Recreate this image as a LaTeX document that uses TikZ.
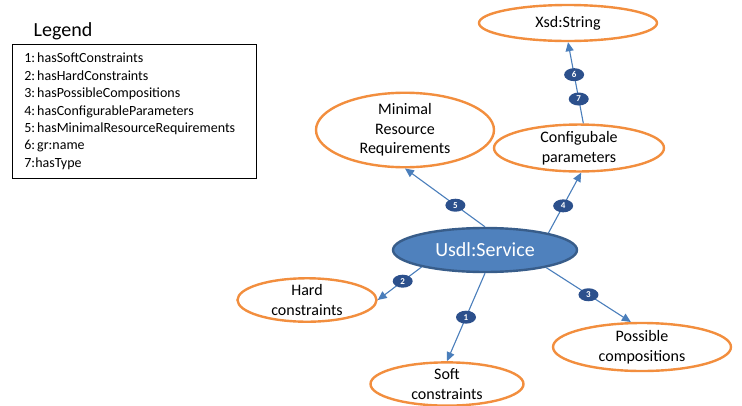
\documentclass[tikz,border=0pt]{standalone}
\usepackage{fontspec}
\setmainfont{Carlito}
\usepackage{tikz}
\usetikzlibrary{arrows.meta,shapes,positioning}
\frenchspacing
\definecolor{ora}{RGB}{242,142,62}
\definecolor{svcfill}{RGB}{79,129,189}
\definecolor{svcdraw}{RGB}{56,93,138}
\definecolor{relblue}{RGB}{74,126,187}
\definecolor{numblue}{RGB}{44,80,140}
\newcommand{\legfont}{\fontsize{14}{17.4}\selectfont}
\newcommand{\legsp}{\kern2pt}
\tikzstyle{prop}=[ellipse, draw=ora, line width=2.4pt, inner sep=0pt, align=center, font=\fontsize{16}{19.5}\selectfont]
\tikzstyle{num}=[ellipse, fill=numblue, text=white, inner sep=0pt, minimum width=20pt, minimum height=13pt, font=\fontsize{9}{9}\selectfont\bfseries]
\tikzstyle{rel}=[draw=relblue, line width=1.1pt, -{Triangle[length=9pt,width=8pt]}]

\begin{document}
\begin{tikzpicture}[x=1pt,y=-1pt]
		\useasboundingbox (0,0) rectangle (742,405);
		\node (T)at(63,31){\fontsize{20}{24}\selectfont Legend};
		\node[draw, line width=0.8pt, anchor=north west, text width=220pt, inner xsep=12pt, inner ysep=6pt, minimum height=134pt, align=left, font=\legfont] (L)at(12,44){1:\legsp hasSoftConstraints\\2:\legsp hasHardConstraints\\3:\legsp hasPossibleCompositions\\4:\legsp hasConfigurableParameters\\5:\legsp hasMinimalResourceRequirements\\6:\legsp gr:name\\7:hasType};
		\node[prop, minimum width=178pt, minimum height=36pt] (X)at(568,23){Xsd:String};
		\node[prop, minimum width=178pt, minimum height=64pt] (M)at(405,130){Minimal\\Resource\\Requirements};
		\node[prop, minimum width=170pt, minimum height=35pt] (C)at(579,148){Configubale\\parameters};
		\node[ellipse, fill=svcfill, draw=svcdraw, line width=2.4pt, text=white, minimum width=184pt, minimum height=44pt, inner sep=0pt, font=\fontsize{20}{24}\selectfont] (U)at(485,250){Usdl:Service};
		\node[prop, minimum width=139pt, minimum height=42pt] (H)at(307,300){Hard\\constraints};
		\node[prop, minimum width=153pt, minimum height=40pt] (S)at(447,384){Soft\\constraints};
		\node[prop, minimum width=178pt, minimum height=48pt] (P)at(642,347){Possible\\compositions};

	\draw[rel](U.south)--(S.north) node[num,pos=0.5]{1};
	\draw[rel](U.195)--(H.east) node[num,pos=0.43]{2};
	\draw[rel](U.-16)--(P.114) node[num,pos=0.5]{3};
	\draw[rel](U.15)--(C.-85) node[num,pos=0.45]{4};
	\draw[rel](U.north)--(M.south) node[num,pos=0.37]{5};
	\draw[rel](C.80)--(X.south) node[num,pos=0.6]{6} node[num,pos=0.3]{7};
	\end{tikzpicture}
\end{document}
